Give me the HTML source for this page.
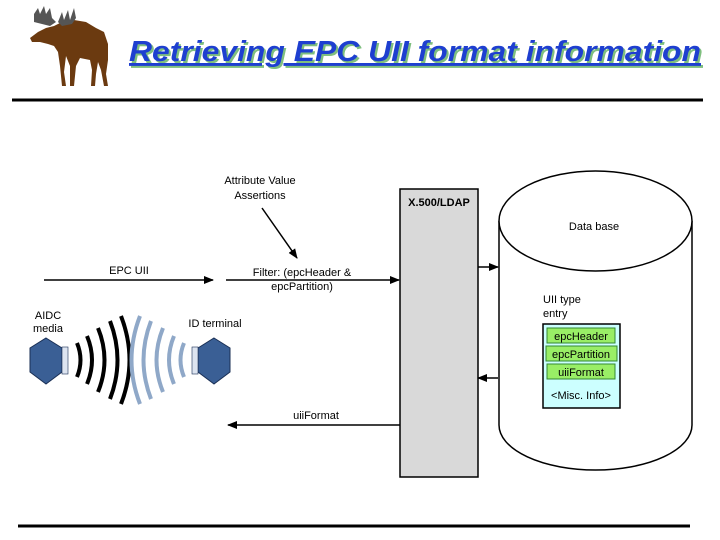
<!DOCTYPE html>
<html><head><meta charset="utf-8"><style>
html,body{margin:0;padding:0;background:#fff;}
svg{display:block;font-family:"Liberation Sans",sans-serif;}
</style></head><body>
<svg width="720" height="540" viewBox="0 0 720 540" xmlns="http://www.w3.org/2000/svg">
<defs>
<marker id="ah" viewBox="0 0 10 10" refX="9" refY="5" markerWidth="10" markerHeight="10" markerUnits="userSpaceOnUse" orient="auto"><path d="M0,1 L10,5 L0,9 z" fill="#000"/></marker>
</defs>
<!-- moose -->
<g fill="#6b3a10">
<path d="M30,38 L38,32 L46,28 L54,26 L62,22 L74,20 L86,22 L96,28 L104,32 L108,44 L108,60 L106,74 L108,86 L104,86 L101,70 L98,62 L96,74 L95,86 L91,86 L92,70 L90,60 L80,58 L76,66 L74,86 L70,86 L70,66 L66,56 L64,72 L66,86 L62,86 L60,66 L58,52 L54,46 L48,44 L40,42 L32,42 Z"/>
</g>
<g fill="#555">
<path d="M34,14 L38,8 L40,14 L44,6 L46,14 L50,8 L52,18 L56,22 L50,26 L42,24 L34,22 Z"/>
<path d="M58,22 L62,12 L64,20 L68,10 L70,20 L74,8 L76,18 L72,24 L62,26 Z"/>
</g>
<!-- title -->
<text x="131" y="63" font-size="29" font-style="italic" font-weight="bold" fill="#7fbf7f" text-decoration="underline" textLength="572" lengthAdjust="spacingAndGlyphs">Retrieving EPC UII format information</text>
<text x="129" y="61" font-size="29" font-style="italic" font-weight="bold" fill="#1e3fd0" text-decoration="underline" textLength="572" lengthAdjust="spacingAndGlyphs">Retrieving EPC UII format information</text>
<line x1="12" y1="100" x2="703" y2="100" stroke="#000" stroke-width="3"/>
<line x1="18" y1="526" x2="690" y2="526" stroke="#000" stroke-width="3"/>
<!-- gray rect -->
<rect x="400" y="189" width="78" height="288" fill="#d9d9d9" stroke="#000" stroke-width="1.5"/>
<text x="439" y="206" font-size="11" font-weight="bold" text-anchor="middle">X.500/LDAP</text>
<!-- cylinder -->
<path d="M499,221 L499,425 A96.5,45 0 0 0 692,425 L692,221" fill="#fff" stroke="#000" stroke-width="1.5"/>
<ellipse cx="595.5" cy="221" rx="96.5" ry="50" fill="#fff" stroke="#000" stroke-width="1.5"/>
<text x="594" y="230" font-size="11" text-anchor="middle">Data base</text>
<text x="543" y="303" font-size="11">UII type</text>
<text x="543" y="317" font-size="11">entry</text>
<rect x="543" y="324" width="77" height="84" fill="#ccffff" stroke="#000" stroke-width="1.5"/>
<rect x="547" y="328" width="68" height="15" fill="#99ee66" stroke="#338833"/>
<rect x="546" y="346" width="71" height="15" fill="#99ee66" stroke="#338833"/>
<rect x="547" y="364" width="68" height="15" fill="#99ee66" stroke="#338833"/>
<text x="581" y="340" font-size="11" text-anchor="middle">epcHeader</text>
<text x="581" y="358" font-size="11" text-anchor="middle">epcPartition</text>
<text x="581" y="376" font-size="11" text-anchor="middle">uiiFormat</text>
<text x="581" y="399" font-size="11" text-anchor="middle">&lt;Misc. Info&gt;</text>
<!-- arrows -->
<line x1="44" y1="280" x2="213" y2="280" stroke="#000" stroke-width="1.5" marker-end="url(#ah)"/>
<line x1="226" y1="280" x2="399" y2="280" stroke="#000" stroke-width="1.5" marker-end="url(#ah)"/>
<line x1="478" y1="267" x2="498" y2="267" stroke="#000" stroke-width="1.5" marker-end="url(#ah)"/>
<line x1="498" y1="378" x2="478" y2="378" stroke="#000" stroke-width="1.5" marker-end="url(#ah)"/>
<line x1="400" y1="425" x2="228" y2="425" stroke="#000" stroke-width="1.5" marker-end="url(#ah)"/>
<line x1="262" y1="208" x2="297" y2="258" stroke="#000" stroke-width="1.5" marker-end="url(#ah)"/>
<text x="260" y="184" font-size="11" text-anchor="middle">Attribute Value</text>
<text x="260" y="199" font-size="11" text-anchor="middle">Assertions</text>
<text x="129" y="274" font-size="11" text-anchor="middle">EPC UII</text>
<text x="302" y="276" font-size="11" text-anchor="middle">Filter: (epcHeader &amp;</text>
<text x="302" y="290" font-size="11" text-anchor="middle">epcPartition)</text>
<text x="316" y="419" font-size="11" text-anchor="middle">uiiFormat</text>
<text x="48" y="319" font-size="11" text-anchor="middle">AIDC</text>
<text x="48" y="332" font-size="11" text-anchor="middle">media</text>
<text x="215" y="327" font-size="11" text-anchor="middle">ID terminal</text>
<!-- devices -->
<polygon points="46,338 62,348 62,372 46,384 30,372 30,348" fill="#3a5f95" stroke="#1a2f55"/>
<rect x="62" y="347" width="6" height="27" fill="#dde4f0" stroke="#1a2f55" stroke-width="0.6"/>
<polygon points="214,338 230,348 230,372 214,384 198,372 198,348" fill="#3a5f95" stroke="#1a2f55"/>
<rect x="192" y="347" width="6" height="27" fill="#dde4f0" stroke="#1a2f55" stroke-width="0.6"/>
<!-- waves -->
<g fill="none" stroke="#000" stroke-width="4">
<path d="M77,343 Q84,360 77,377"/>
<path d="M87,336 Q97,360 87,384"/>
<path d="M98,328 Q111,360 98,392"/>
<path d="M110,321 Q125,360 110,399"/>
<path d="M121,316 Q138,360 121,404"/>
</g>
<g fill="none" stroke="#8fa8c8" stroke-width="4">
<path d="M184,343 Q177,360 184,377"/>
<path d="M174,336 Q164,360 174,384"/>
<path d="M163,328 Q150,360 163,392"/>
<path d="M151,321 Q136,360 151,399"/>
<path d="M140,316 Q123,360 140,404"/>
</g>
</svg>
</body></html>
